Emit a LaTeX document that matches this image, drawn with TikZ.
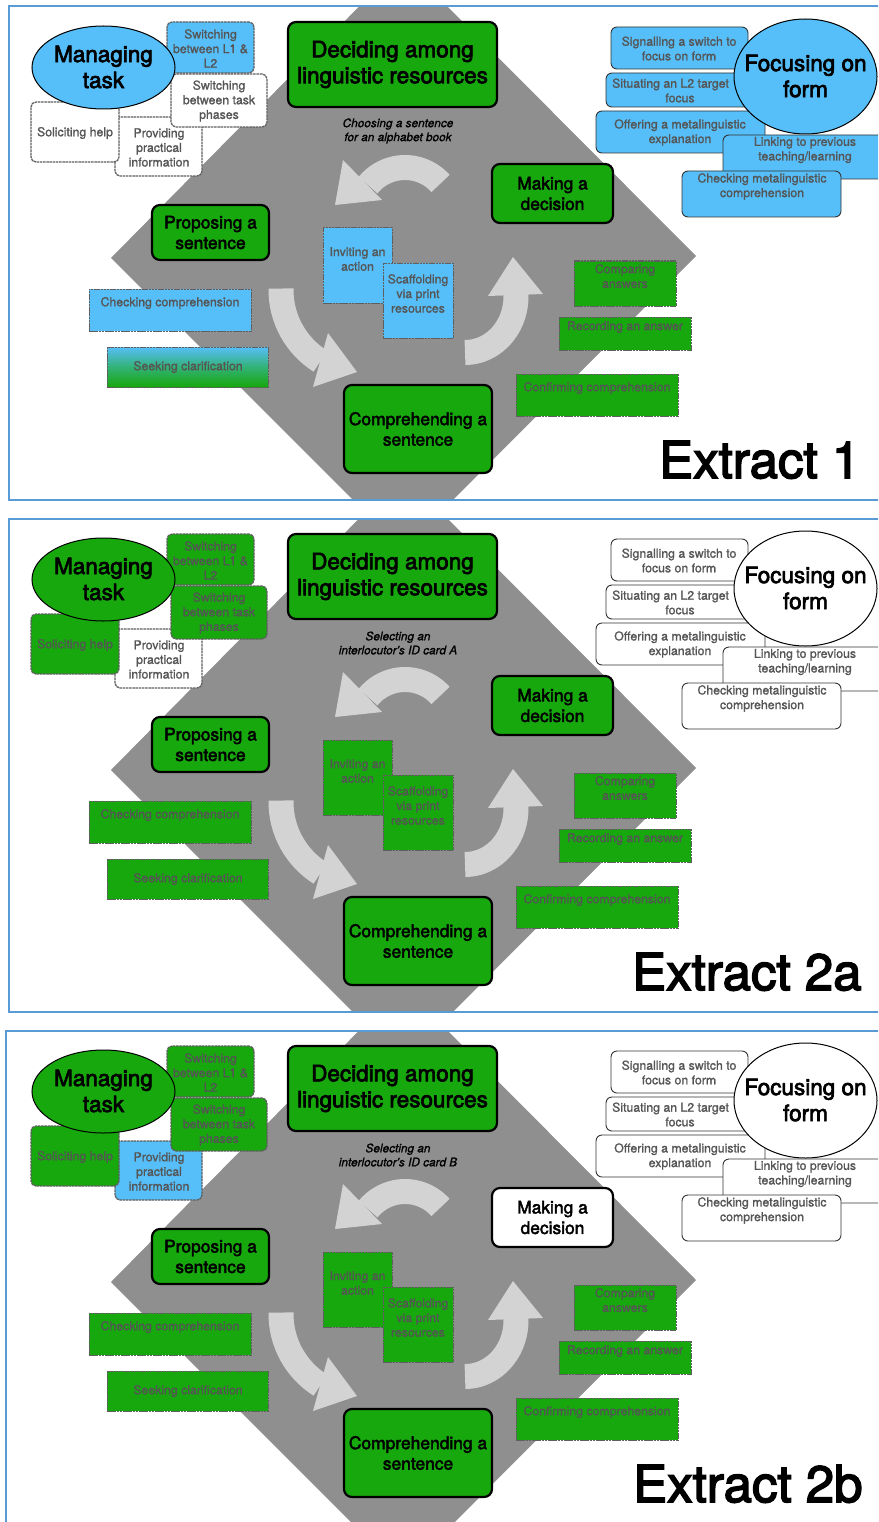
\documentclass[tikz,border=0pt]{standalone}
\usepackage{fontspec}
\setmainfont{TeX Gyre Heros}
\newfontfamily\hvB{TeX Gyre Heros}[FakeBold=3]
\newfontfamily\hvM{TeX Gyre Heros}[FakeBold=2.5]
\newfontfamily\hvS{TeX Gyre Heros}[FakeBold=1.2]
\usetikzlibrary{calc,shapes.geometric}
\definecolor{cgreen}{RGB}{22,168,12}
\definecolor{cblue}{RGB}{86,190,248}
\definecolor{cdiam}{RGB}{143,143,143}
\definecolor{carrow}{RGB}{211,211,211}
\definecolor{cframe}{RGB}{91,155,213}
\definecolor{ctext}{RGB}{85,85,85}
\definecolor{cedge}{RGB}{95,95,95}
\tikzset{
 bigfont/.style={font=\hvB\fontsize{22.5}{26}\selectfont},
 medfont/.style={font=\hvM\fontsize{17.4}{20.5}\selectfont},
 capfont/.style={font=\hvS\fontsize{11.8}{14}\selectfont\itshape},
 mainbox/.style={draw=black, line width=2.2pt, rounded corners=8pt, inner sep=0pt, align=center, medfont},
 mgbox/.style={draw=cedge, line width=1.3pt, dash pattern=on 2.5pt off 0.7pt, rounded corners=5pt, inner sep=0pt},
 ctbox/.style={draw=cedge, line width=1pt, dash pattern=on 2.5pt off 0.7pt, inner sep=0pt},
 rtbox/.style={draw=black!80, line width=0.9pt, rounded corners=6pt, inner sep=0pt},
 txt/.style={font=\hvS\fontsize{12.3}{14.6}\selectfont, text=ctext, align=center, inner sep=0pt},
 band/.style={draw=carrow, line width=25pt},
 head/.style={fill=carrow},
 frame/.style={draw=cframe, line width=2pt},
 elli/.style={ellipse, draw=black, line width=1pt, inner sep=0pt},
 bigtxt/.style={bigfont, align=center, inner sep=0pt},
 seekfill/.style={fill=cgreen},
}
% style, name, x1, y1, x2, y2, text x, text y, text
\newcommand\bx[9]{%
 \node[#1, minimum width={(#5-#3)*1pt}, minimum height={(#6-#4)*1pt}] (#2) at ({(#3+#5)/2},{(#4+#6)/2}) {};
 \node[txt] (#2-t) at (#7,#8) {#9};}
% offset, frame left, caption, extract, extract x, prefix
\newcommand\drawpanel[6]{%
\begin{scope}[yshift=-#1pt]
 \begin{scope}
  \clip (#2,6.5) rectangle (900,500);
  \fill[cdiam] (403,-38) -- (696,256) -- (403,550) -- (111,258) -- cycle;
 \end{scope}
 \draw[frame] (#2,6.5) rectangle (900,500);
 % cycle arrows
 \draw[band] ($(405,215)+(-41.6:47.5)$) arc[start angle=-41.6, end angle=-141, radius=47.5];
 \fill[head] (343,160) -- (335,205) -- (382,200) -- cycle;
 \draw[band] ($(365,290)+(181:84)$) arc[start angle=181, end angle=122, radius=84];
 \fill[head] (328,333) -- (357,372) -- (313,387) -- cycle;
 \draw[band] (465,352.5) arc[start angle=90, end angle=-3, x radius=51, y radius=56];
 \fill[head] (488,296) -- (513,257) -- (543,294) -- cycle;
 % managing task group
 \bx{mgbox, fill=cProv}{#6prv}{115}{117}{202}{176}{159}{147.5}{Providing\\practical\\information}
 \bx{mgbox, fill=cSol}{#6sol}{31}{102}{119}{162}{75}{133}{Soliciting help}
 \bx{mgbox, fill=cSwA}{#6swa}{167}{22}{254}{73}{210.5}{48.5}{Switching\\between L1 \&\\L2}
 \bx{mgbox, fill=cSwB}{#6swb}{171}{74}{267}{127}{219}{101}{Switching\\between task\\phases}
 \node[elli, fill=cMan, minimum width=143pt, minimum height=83pt] (#6man) at (103.5,67.5) {};
 \node[bigtxt] (#6man-t) at (103.5,67) {Managing\\task};
 % main steps
 \node[mainbox, bigfont, fill=cgreen, minimum width=209pt, minimum height=85pt] (#6dec) at (392.5,64.5) {Deciding among\\linguistic resources};
 \node[mainbox, fill=cMak, minimum width=121pt, minimum height=59pt] (#6mak) at (552.5,193.5) {Making a\\decision};
 \node[mainbox, fill=cgreen, minimum width=117pt, minimum height=55pt] (#6pro) at (210.5,232.5) {Proposing a\\sentence};
 \node[mainbox, fill=cgreen, minimum width=148pt, minimum height=88pt] (#6com) at (418,429) {Comprehending a\\sentence};
 \node[capfont, align=center, inner sep=0pt] (#6cap) at (398,131) {#3};
 % centre boxes
 \bx{ctbox, fill=cInv}{#6inv}{323}{228}{392}{303}{357.5}{259}{Inviting an\\action}
 \bx{ctbox, fill=cInv}{#6scf}{383}{263}{453}{338}{418}{293.5}{Scaffolding\\via print\\resources}
 \bx{ctbox, fill=cInv}{#6chk}{89}{289}{251}{331}{170}{303}{Checking comprehension}
 \bx{ctbox, seekfill}{#6seek}{107}{347}{268}{387}{188}{367}{Seeking clarification}
 \bx{ctbox, fill=cgreen}{#6cmp}{574}{261}{676}{306}{625}{276}{Comparing\\answers}
 \bx{ctbox, fill=cgreen}{#6rec}{559}{317}{691}{350}{625}{327}{Recording an answer}
 \bx{ctbox, fill=cgreen}{#6cnf}{516}{374}{678}{416}{597}{388}{Confirming comprehension}
 % focusing on form group
 \bx{rtbox, fill=cRt}{#6sig}{611}{27}{748}{69}{679}{48.5}{Signalling a switch to\\focus on form}
 \bx{rtbox, fill=cRt}{#6sit}{606}{73}{755}{107}{680}{90.5}{Situating an L2 target\hspace*{19pt}\\focus}
 \bx{rtbox, fill=cRt}{#6off}{596}{111}{765}{153}{680}{132.5}{Offering a metalinguistic\\explanation}
 \node[elli, fill=cRt, minimum width=143pt, minimum height=115pt] (#6foc) at (805.5,76.5) {};
 \node[bigtxt] (#6foc-t) at (805.5,76) {Focusing on\\form};
 \bx{rtbox, fill=cRt}{#6lnk}{723}{135}{890}{179}{805}{150}{Linking to previous\\teaching/learning}
 \bx{rtbox, fill=cRt}{#6cmm}{682}{171}{841}{217}{762}{186.5}{Checking metalinguistic\\comprehension}
 \node[anchor=base west, font=\hvB\fontsize{51}{51}\selectfont, inner sep=0pt] (#6ext) at (#5,478) {#4};
\end{scope}}
\begin{document}
\begin{tikzpicture}[x=1pt,y=-1pt]
\useasboundingbox (0,0) rectangle (878,1522);
\clip (0,0) rectangle (878,1522);
% panel 1
\colorlet{cMan}{cblue}\colorlet{cSwA}{cblue}\colorlet{cSwB}{white}\colorlet{cSol}{white}
\colorlet{cProv}{white}\colorlet{cInv}{cblue}\colorlet{cMak}{cgreen}\colorlet{cRt}{cblue}
\tikzset{seekfill/.style={top color=cblue, bottom color=cgreen, middle color=cblue!45!cgreen}}
\drawpanel{0}{9}{Choosing a sentence\\for an alphabet book}{Extract 1}{659}{pa}
% panel 2
\colorlet{cMan}{cgreen}\colorlet{cSwA}{cgreen}\colorlet{cSwB}{cgreen}\colorlet{cSol}{cgreen}
\colorlet{cProv}{white}\colorlet{cInv}{cgreen}\colorlet{cMak}{cgreen}\colorlet{cRt}{white}
\tikzset{seekfill/.style={fill=cgreen}}
\drawpanel{512}{9}{Selecting an\\interlocutor’s ID card A}{Extract 2a}{632}{pb}
% panel 3
\colorlet{cProv}{cblue}\colorlet{cMak}{white}
\drawpanel{1024}{6}{Selecting an\\interlocutor’s ID card B}{Extract 2b}{633}{pc}
\end{tikzpicture}
\end{document}
